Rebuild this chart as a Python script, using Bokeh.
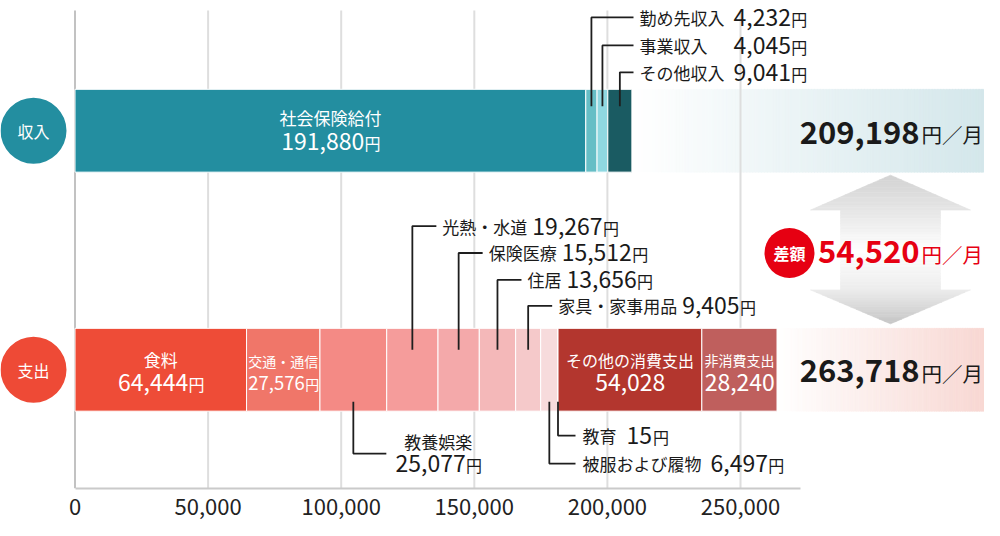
import numpy as np
from bokeh.plotting import figure
from bokeh.models import Range1d, FixedTicker, NumeralTickFormatter
from bokeh.embed import file_html
from bokeh.resources import INLINE
from bokeh.core.properties import value

# ---------------- data ----------------
ROW_NAMES = ["収入", "支出"]
INCOME_LABELS = ["社会保険給付", "勤め先収入", "事業収入", "その他収入"]
INCOME_VALUES = [191880, 4232, 4045, 9041]
EXPENSE_LABELS = ["食料", "交通・通信", "教養娯楽", "光熱・水道", "保険医療", "住居",
                  "家具・家事用品", "被服および履物", "教育", "その他の消費支出", "非消費支出"]
EXPENSE_VALUES = [64444, 27576, 25077, 19267, 15512, 13656, 9405, 6497, 15, 54028, 28240]
INCOME_TOTAL = 209198
EXPENSE_TOTAL = 263718
DIFFERENCE = 54520
DIFF_LABEL = "差額"
X_TICKS = [0, 50000, 100000, 150000, 200000, 250000]

# ---------------- style / layout ----------------
INCOME_COLORS = ["#238ea0", "#66bec6", "#8fd8e1", "#1a5b62"]
EXPENSE_COLORS = ["#ee4c37", "#f07669", "#f48a85", "#f59c9b", "#f4a9aa", "#f4b8b9",
                  "#f5c9ca", "#f7dbdc", "#f7dbdc", "#b3362e", "#bf5f5d"]
TEAL, RED, DIFF_RED, INK, WHITE = "#238ea0", "#ee4a36", "#e60012", "#1a1a1a", "#ffffff"
FONT = "Noto Sans CJK JP"
W, H = 984, 520
PX0 = 74.5                # screen x of the zero line
K = 665.5 / 250000        # pixels per yen
Y_TOP, Y_AXIS = 3, 492
GRID_TOP = 13
BORDER_BOTTOM = 32
ROW_Y = {"収入": 133.5, "支出": 373}
BAR_H = 83
NUM = 23     # callout / in-bar number size
YEN = 16


def X(px):
    return (px - PX0) / K


def PX(x):
    return PX0 + x * K


p = figure(width=W, height=H, x_range=Range1d(X(0), X(W)), y_range=Range1d(Y_AXIS, Y_TOP),
           output_backend="svg", toolbar_location=None, y_axis_location=None,
           min_border_left=0, min_border_right=0, min_border_top=0, min_border_bottom=BORDER_BOTTOM)
p.outline_line_color = None
p.grid.visible = False
p.background_fill_color = WHITE
p.border_fill_color = WHITE

ax = p.xaxis[0]
ax.ticker = FixedTicker(ticks=X_TICKS)
ax.formatter = NumeralTickFormatter(format="0,0")
ax.bounds = (0, X(800))
ax.axis_line_color = "#cacaca"
ax.axis_line_width = 2
ax.major_tick_line_color = None
ax.minor_tick_line_color = None
ax.major_label_text_font = FONT
ax.major_label_text_font_size = "22px"
ax.major_label_text_color = "#222222"
ax.major_label_standoff = 4


def mix(c0, c1, t):
    a = [int(c0[i:i + 2], 16) for i in (1, 3, 5)]
    b = [int(c1[i:i + 2], 16) for i in (1, 3, 5)]
    return "#%02x%02x%02x" % tuple(round(a[k] + (b[k] - a[k]) * t) for k in range(3))


def band(x0, x1, yc, c0, c1, n=120):
    e = np.linspace(x0, x1, n + 1)
    cols = [mix(c0, c1, (i + 0.5) / n) for i in range(n)]
    p.quad(left=e[:-1], right=e[1:] + (e[1] - e[0]) * 0.3, top=yc - BAR_H / 2, bottom=yc + BAR_H / 2,
           fill_color=cols, line_color=cols, line_width=0.5)


# gradient totals bands
band(INCOME_TOTAL, X(W), ROW_Y["収入"], "#ffffff", "#d4e7eb")
band(EXPENSE_TOTAL, X(W), ROW_Y["支出"], "#ffffff", "#f8d8d3")

# grid lines
p.segment(x0=X_TICKS[1:], x1=X_TICKS[1:], y0=GRID_TOP, y1=Y_AXIS, line_color="#dedede", line_width=2)
p.segment(x0=X_TICKS[:1], x1=X_TICKS[:1], y0=GRID_TOP, y1=Y_AXIS, line_color="#c2c2c2", line_width=2)

# stacked bars
inc_right = np.cumsum(INCOME_VALUES)
inc_left = inc_right - np.array(INCOME_VALUES)
inc_mid = (inc_left + inc_right) / 2
exp_right = np.cumsum(EXPENSE_VALUES)
exp_left = exp_right - np.array(EXPENSE_VALUES)
exp_mid = (exp_left + exp_right) / 2

p.hbar(y=ROW_Y["収入"], height=BAR_H, left=inc_left, right=inc_right,
       fill_color=INCOME_COLORS, line_color=WHITE, line_width=1)
p.hbar(y=ROW_Y["支出"], height=BAR_H, left=exp_left, right=exp_right,
       fill_color=EXPENSE_COLORS, line_color=WHITE, line_width=1)

# double arrow (decorative, vertical gray gradient)
CX, TIP_T, BASE_T, BASE_B, TIP_B, HEAD, SHAFT = 890, 178, 213, 293, 327, 80, 50


def half_w(y):
    if y <= BASE_T:
        return HEAD * (y - TIP_T) / (BASE_T - TIP_T)
    if y >= BASE_B:
        return HEAD * (TIP_B - y) / (TIP_B - BASE_B)
    return SHAFT


stops = [(178, "#d2d2d2"), (213, "#e6e6e6"), (255, "#ffffff"), (293, "#ececec"), (327, "#c6c6c6")]


def grad(y):
    for (ya, ca), (yb, cb) in zip(stops[:-1], stops[1:]):
        if ya <= y <= yb:
            return mix(ca, cb, (y - ya) / (yb - ya))
    return stops[-1][1]


ys_cut = np.concatenate([np.linspace(TIP_T, BASE_T, 15)[:-1], np.linspace(BASE_T, BASE_B, 30)[:-1],
                         np.linspace(BASE_B, TIP_B, 15)])
axs, ays, acs = [], [], []
for ya, yb in zip(ys_cut[:-1], ys_cut[1:]):
    ha, hb = half_w(ya), half_w(yb)
    if ya == BASE_T:
        ha = SHAFT
    if yb == BASE_B:
        hb = SHAFT
    if ya == BASE_B:
        ha = HEAD
    if yb == BASE_T:
        hb = HEAD
    axs.append([X(CX - ha), X(CX + ha), X(CX + hb), X(CX - hb)])
    ays.append([ya, ya, yb, yb])
    acs.append(grad((ya + yb) / 2))
p.patches(xs=axs, ys=ays, fill_color=acs, line_color=acs, line_width=0.6)


# ---------------- text helpers ----------------
def tw(s, size):
    w = 0.0
    for ch in s:
        if ch.isdigit():
            w += 0.555
        elif ch in ", ":
            w += 0.25
        elif ord(ch) < 128:
            w += 0.55
        else:
            w += 1.0
    return w * size


def txt(x, y, s, size, color=INK, align="left", bold=False, dx=0.0, dy=0.0):
    p.text(x=[x], y=[y], text=[s], text_font=value(FONT), text_font_size=f"{size}px",
           text_color=color, text_align=align, text_baseline="middle",
           text_font_style="bold" if bold else "normal", x_offset=dx, y_offset=dy)


def amount(x, yc, v, nsize, ysize, color=INK, align="left", yen=True, bold=False):
    s = f"{v:,}"
    wn = tw(s, nsize)
    wy = ysize if yen else 0
    off = {"center": -(wn + wy) / 2, "right": -(wn + wy), "left": 0}[align]
    txt(x, yc, s, nsize, color, "left", bold, off)
    if yen:
        txt(x, yc, "円", ysize, color, "left", False, off + wn + 1, 1.5)


LEAD = dict(line_color="#1e1e1e", line_width=1.8)
lxs, lys = [], []

# income callouts
for i, y in zip([1, 2, 3], [20, 48, 75]):
    cx = inc_mid[i]
    lxs.append([cx, cx, X(633)])
    lys.append([109, y, y])
    txt(X(639), y, INCOME_LABELS[i], 17)
    amount(X(733), y, INCOME_VALUES[i], NUM, YEN)

# expense callouts above
for i, y in zip([3, 4, 5, 6], [229, 256, 283, 309]):
    cx = exp_mid[i]
    cp = PX(cx)
    lxs.append([cx, cx, X(cp + 24)])
    lys.append([353, y, y])
    txt(X(cp + 30), y, EXPENSE_LABELS[i], 17)
    amount(X(cp + 30 + tw(EXPENSE_LABELS[i], 17) + 5), y, EXPENSE_VALUES[i], NUM, YEN)

# expense callouts below
cx = exp_mid[2]
cp = PX(cx)
lxs.append([cx, cx, X(cp + 33)])
lys.append([405, 457, 457])
txt(X(cp + 85), 445, EXPENSE_LABELS[2], 17, align="center")
amount(X(cp + 85), 467, EXPENSE_VALUES[2], NUM, YEN, align="center")

for i, y, gap in [(8, 439, 10), (7, 467, 9)]:
    cx = exp_mid[i]
    lxs.append([cx, cx, X(575)])
    lys.append([405, y, y])
    txt(X(582), y, EXPENSE_LABELS[i], 17)
    amount(X(582 + tw(EXPENSE_LABELS[i], 17) + gap), y, EXPENSE_VALUES[i], NUM, YEN)

p.multi_line(xs=lxs, ys=lys, **LEAD)

# in-bar labels
txt(inc_mid[0], 120, INCOME_LABELS[0], 17, WHITE, "center")
amount(inc_mid[0], 144, INCOME_VALUES[0], NUM, YEN, WHITE, "center")

txt(exp_mid[0], 363, EXPENSE_LABELS[0], 17, WHITE, "center")
amount(exp_mid[0], 386, EXPENSE_VALUES[0], NUM, YEN, WHITE, "center")
txt(exp_mid[1], 364, EXPENSE_LABELS[1], 14, WHITE, "center")
amount(exp_mid[1], 386, EXPENSE_VALUES[1], 18.5, 14, WHITE, "center")
txt(exp_mid[9], 363, EXPENSE_LABELS[9], 16, WHITE, "center")
amount(exp_mid[9], 386, EXPENSE_VALUES[9], NUM, YEN, WHITE, "center", yen=False)
txt(exp_mid[10], 363, EXPENSE_LABELS[10], 14, WHITE, "center")
amount(exp_mid[10], 386, EXPENSE_VALUES[10], NUM, YEN, WHITE, "center", yen=False)

# row badges
p.scatter(x=[X(33), X(33)], y=[ROW_Y[r] for r in ROW_NAMES], size=66, marker="circle",
          fill_color=[TEAL, RED], line_color=None)
for r in ROW_NAMES:
    txt(X(33), ROW_Y[r], r, 16, WHITE, "center")

# totals
TOT_R = 919
txt(X(TOT_R), 135, f"{INCOME_TOTAL:,}", 31, INK, "right", True)
txt(X(TOT_R + 2), 137, "円／月", 20.5, INK, "left")
txt(X(TOT_R), 374, f"{EXPENSE_TOTAL:,}", 31, INK, "right", True)
txt(X(TOT_R + 2), 376, "円／月", 20.5, INK, "left")

# difference badge
p.scatter(x=[X(789)], y=[256], size=50, marker="circle", fill_color=DIFF_RED, line_color=None)
txt(X(789), 256, DIFF_LABEL, 16, WHITE, "center", bold=True)
txt(X(TOT_R), 255, f"{DIFFERENCE:,}", 31, DIFF_RED, "right", True)
txt(X(TOT_R + 2), 257, "円／月", 20.5, DIFF_RED, "left")

open("out.html", "w").write(file_html(p, INLINE))
